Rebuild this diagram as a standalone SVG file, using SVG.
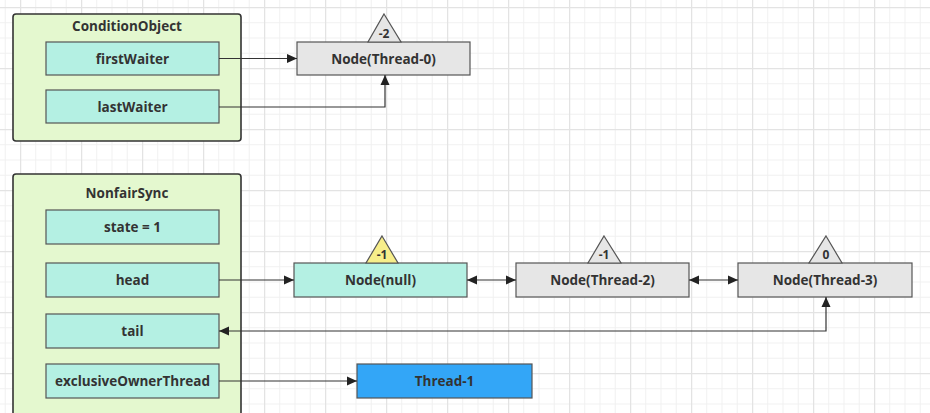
<svg xmlns="http://www.w3.org/2000/svg" width="930" height="413" viewBox="0 0 930 413">
<defs>
<pattern id="minor" patternUnits="userSpaceOnUse" x="20" y="7" width="15.25" height="15.25">
<path d="M0 0.5H15.25M0.5 0V15.25" fill="none" stroke="#f0f0f0" stroke-width="1"/>
</pattern>
<pattern id="major" patternUnits="userSpaceOnUse" x="20" y="7" width="61" height="61">
<path d="M0 0.5H61M0.5 0V61" fill="none" stroke="#e3e3e3" stroke-width="1.5"/>
</pattern>
<marker id="arr" viewBox="0 0 10 10" refX="10" refY="5" markerWidth="10" markerHeight="10" markerUnits="userSpaceOnUse" orient="auto-start-reverse">
<path d="M0 0.5L10 5L0 9.5z" fill="#222"/>
</marker>
</defs>
<style>
.container{fill:#e4f8cf;stroke:#333;stroke-width:1.6}
.field{fill:#b4f0e3;stroke:#555;stroke-width:1.2}
.gray{fill:#e6e6e6;stroke:#555;stroke-width:1.2}
.teal{fill:#b4f0e3;stroke:#555;stroke-width:1.2}
.blue{fill:#33a6f7;stroke:#555;stroke-width:1.2}
.tri{fill:#e6e6e6;stroke:#555;stroke-width:1.2}
.tri-y{fill:#f7ee8a;stroke:#555;stroke-width:1.2}
text{font-family:"Open Sans","Noto Sans","Liberation Sans",sans-serif;font-weight:bold;font-size:13.5px;fill:#333;text-anchor:middle;dominant-baseline:central}
.small{font-size:12px}
.edge{fill:none;stroke:#333;stroke-width:1.2}
</style>
<rect width="930" height="413" fill="#ffffff"/>
<rect width="930" height="413" fill="url(#minor)"/>
<rect width="930" height="413" fill="url(#major)"/>

<g id="conditionObject">
<rect class="container" x="13" y="14" width="228" height="127" rx="3"/>
<text x="127" y="26">ConditionObject</text>
</g>
<g id="firstWaiter">
<rect class="field" x="46" y="42" width="173" height="33"/>
<text x="132.5" y="58.5">firstWaiter</text>
</g>
<g id="lastWaiter">
<rect class="field" x="46" y="90" width="173" height="33"/>
<text x="132.5" y="106.5">lastWaiter</text>
</g>

<g id="nonfairSync">
<rect class="container" x="13" y="174" width="228" height="250" rx="3"/>
<text x="127" y="193">NonfairSync</text>
</g>
<g id="state">
<rect class="field" x="46" y="210" width="173" height="34"/>
<text x="132.5" y="227">state = 1</text>
</g>
<g id="head">
<rect class="field" x="46" y="263" width="173" height="34"/>
<text x="132.5" y="280">head</text>
</g>
<g id="tail">
<rect class="field" x="46" y="314" width="173" height="34"/>
<text x="132.5" y="331">tail</text>
</g>
<g id="exclusiveOwnerThread">
<rect class="field" x="46" y="364" width="173" height="34"/>
<text x="132.5" y="381">exclusiveOwnerThread</text>
</g>

<g id="nodeThread0">
<rect class="gray" x="297" y="42" width="173" height="33"/>
<polygon class="tri" points="384,14 401,42 368,42"/>
<text class="small" x="384" y="33">-2</text>
<text x="383.5" y="58.5">Node(Thread-0)</text>
</g>

<g id="nodeNull">
<rect class="teal" x="294" y="263" width="173" height="34"/>
<polygon class="tri-y" points="382,236 398,263 366,263"/>
<text class="small" x="382" y="254">-1</text>
<text x="380.5" y="280">Node(null)</text>
</g>
<g id="nodeThread2">
<rect class="gray" x="516" y="263" width="173" height="34"/>
<polygon class="tri" points="604,236 621,263 588,263"/>
<text class="small" x="604" y="254">-1</text>
<text x="602.5" y="280">Node(Thread-2)</text>
</g>
<g id="nodeThread3">
<rect class="gray" x="738" y="263" width="174" height="34"/>
<polygon class="tri" points="826,236 842,263 809,263"/>
<text class="small" x="826" y="254">0</text>
<text x="825" y="280">Node(Thread-3)</text>
</g>
<g id="thread1">
<rect class="blue" x="357" y="364" width="175" height="34"/>
<text x="444.5" y="381">Thread-1</text>
</g>

<g id="connectors">
<path class="edge" d="M219 58.5H297" marker-end="url(#arr)"/>
<path class="edge" d="M219 107H385V75" marker-end="url(#arr)"/>
<path class="edge" d="M219 280H294" marker-end="url(#arr)"/>
<path class="edge" d="M467 280H516" marker-start="url(#arr)" marker-end="url(#arr)"/>
<path class="edge" d="M689 280H738" marker-start="url(#arr)" marker-end="url(#arr)"/>
<path class="edge" d="M219 331H826V297" marker-start="url(#arr)" marker-end="url(#arr)"/>
<path class="edge" d="M219 381H357" marker-end="url(#arr)"/>
</g>
</svg>
